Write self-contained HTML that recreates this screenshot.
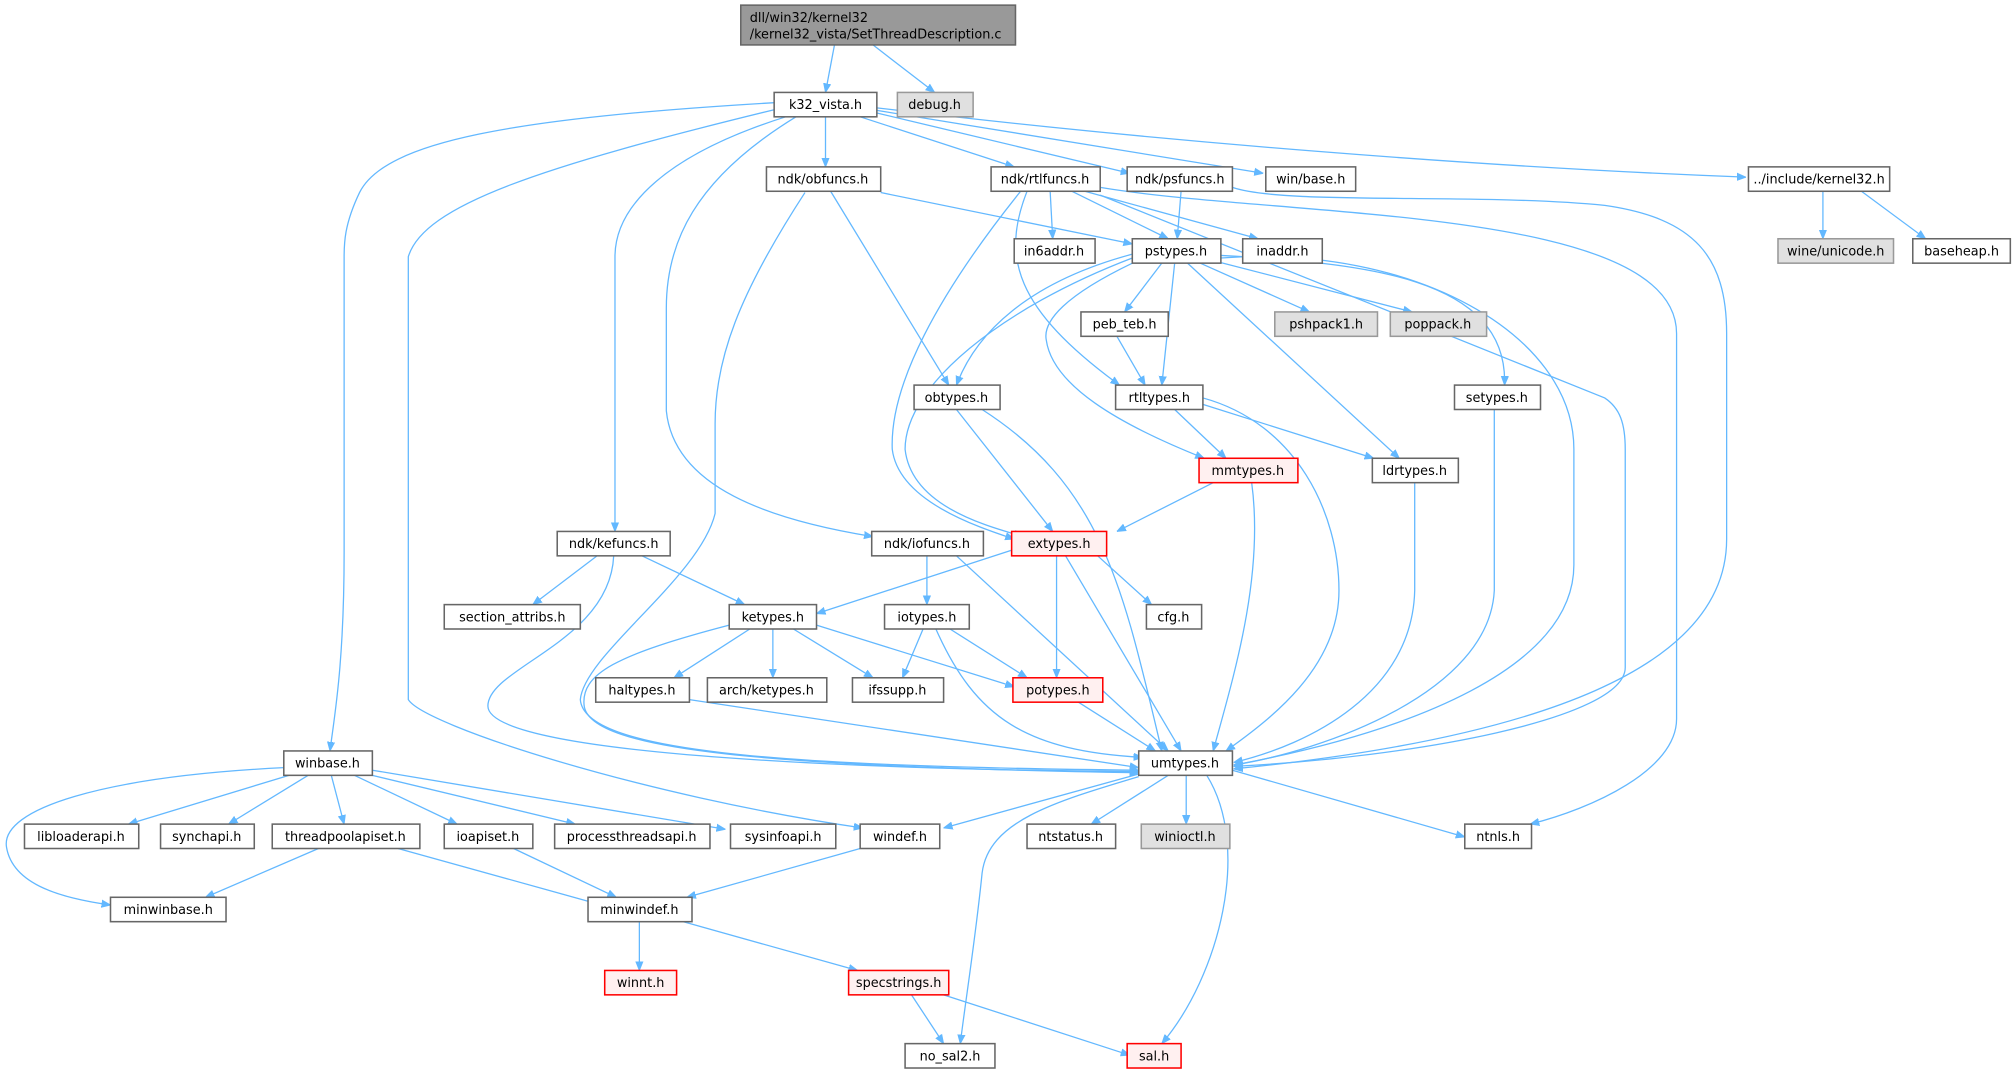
<!DOCTYPE html>
<html><head><meta charset="utf-8"><style>
html,body{margin:0;padding:0;background:#fff;}
svg{display:block;}
text{font-family:"DejaVu Sans","Liberation Sans",sans-serif;font-size:10px;fill:#000;}
.e{fill:none;stroke:#63b8ff;stroke-width:1;}
.n{fill:#fff;stroke:#666;stroke-width:1.2;}
.r{fill:#fff0f0;stroke:#ff0000;stroke-width:1.2;}
.g{fill:#e0e0e0;stroke:#999;stroke-width:1.2;}
</style></head><body>
<svg width="2013" height="1077" viewBox="0 0 1568 839" xmlns="http://www.w3.org/2000/svg">
<defs><marker id="a" viewBox="0 0 10 10" refX="10" refY="5" markerWidth="7" markerHeight="7" orient="auto" markerUnits="userSpaceOnUse"><path d="M0,1 L10,5 L0,9 z" fill="#63b8ff" stroke="#63b8ff"/></marker></defs>
<g marker-end="url(#a)">
<path class="e" d="M650,35 L643,72"/>
<path class="e" d="M680,35 L728,72"/>
<path class="e" d="M603,80 C400,92 300,110 280,150 C268,175 268,190 268,200 L268,430 C268,520 260,560 257,585"/>
<path class="e" d="M605,85 C420,130 330,160 318,200 L318,545 C330,565 500,620 672,645"/>
<path class="e" d="M612,91 C520,120 479,160 479,200 L479,414"/>
<path class="e" d="M620,91 C540,140 519,190 519,240 L519,320 C525,380 600,405 680,418"/>
<path class="e" d="M643,91 L643,130"/>
<path class="e" d="M670,91 L790,130"/>
<path class="e" d="M683,88 L880,135"/>
<path class="e" d="M683,86 L984,135"/>
<path class="e" d="M683,84 C900,110 1150,130 1360,138"/>
<path class="e" d="M686,150 L882,190"/>
<path class="e" d="M647,149 L739,300"/>
<path class="e" d="M627,150 C575,230 557,280 557,330 L557,400 C545,450 455,510 452,545 C455,585 600,597 887,600"/>
<path class="e" d="M818,149 L820,186"/>
<path class="e" d="M835,149 L910,186"/>
<path class="e" d="M845,149 L980,186"/>
<path class="e" d="M800,149 C780,200 790,240 872,300"/>
<path class="e" d="M795,149 C730,230 693,300 695,350 C700,390 760,410 790,420"/>
<path class="e" d="M857,152 L1250,310 C1262,318 1266,330 1266,350 L1266,520 C1266,560 1100,590 961,597"/>
<path class="e" d="M857,146 C1000,170 1306,160 1306,260 L1306,560 C1306,600 1240,630 1192,642"/>
<path class="e" d="M960,146 C1000,160 1150,150 1250,160 C1320,170 1345,200 1345,260 L1345,420 C1345,520 1200,575 961,599"/>
<path class="e" d="M920,149 L917,186"/>
<path class="e" d="M1420,149 L1420,186"/>
<path class="e" d="M1450,149 L1500,186"/>
<path class="e" d="M951,201 C1100,190 1226,260 1226,350 L1226,440 C1226,520 1100,570 961,596"/>
<path class="e" d="M951,199 C1060,205 1175,215 1172,300"/>
<path class="e" d="M935,205 L1020,243"/>
<path class="e" d="M945,203 L1100,243"/>
<path class="e" d="M905,205 L876,243"/>
<path class="e" d="M915,205 L905,300"/>
<path class="e" d="M925,205 L1090,357"/>
<path class="e" d="M882,198 C800,220 760,260 745,300"/>
<path class="e" d="M882,201 C780,240 705,300 705,350 C710,395 770,410 797,418"/>
<path class="e" d="M882,205 C830,230 812,250 815,265 C820,300 870,330 938,357"/>
<path class="e" d="M870,262 L892,300"/>
<path class="e" d="M915,319 L955,357"/>
<path class="e" d="M937,315 L1070,357"/>
<path class="e" d="M937,310 C1010,330 1043,400 1043,460 C1043,520 990,560 955,585"/>
<path class="e" d="M945,376 L870,414"/>
<path class="e" d="M975,376 C985,450 960,530 945,585"/>
<path class="e" d="M1102,376 L1102,460 C1100,540 1020,580 961,594"/>
<path class="e" d="M1164,319 L1164,460 C1160,540 1030,585 961,596"/>
<path class="e" d="M745,319 L820,414"/>
<path class="e" d="M765,319 C860,380 875,460 905,585"/>
<path class="e" d="M790,428 L636,478"/>
<path class="e" d="M855,433 L897,471"/>
<path class="e" d="M823,433 L823,528"/>
<path class="e" d="M830,433 L920,585"/>
<path class="e" d="M722,433 L722,471"/>
<path class="e" d="M745,433 L910,585"/>
<path class="e" d="M465,433 L415,471"/>
<path class="e" d="M500,433 L580,471"/>
<path class="e" d="M478,433 C475,500 380,520 380,550 C380,590 700,600 887,601"/>
<path class="e" d="M584,490 L525,528"/>
<path class="e" d="M602,490 L602,528"/>
<path class="e" d="M618,490 L680,528"/>
<path class="e" d="M636,487 L790,535"/>
<path class="e" d="M568,487 C480,510 452,525 455,550 C460,585 600,597 887,602"/>
<path class="e" d="M719,490 L703,528"/>
<path class="e" d="M740,490 L800,528"/>
<path class="e" d="M729,490 C760,560 800,585 890,590"/>
<path class="e" d="M537,545 L887,598"/>
<path class="e" d="M840,547 L900,585"/>
<path class="e" d="M910,604 L850,642"/>
<path class="e" d="M924,604 L924,642"/>
<path class="e" d="M960,600 L1141,652"/>
<path class="e" d="M887,603 L735,645"/>
<path class="e" d="M887,605 C820,625 770,640 765,680 C760,730 752,780 748,813"/>
<path class="e" d="M940,604 C975,660 950,760 905,813"/>
<path class="e" d="M225,604 L100,642"/>
<path class="e" d="M240,604 L178,642"/>
<path class="e" d="M258,604 L268,642"/>
<path class="e" d="M276,604 L356,642"/>
<path class="e" d="M290,604 L448,642"/>
<path class="e" d="M290,600 L565,646"/>
<path class="e" d="M221,598 C80,605 0,630 5,660 C10,690 50,700 86,705"/>
<path class="e" d="M248,661 L160,699"/>
<path class="e" d="M310,661 L465,704"/>
<path class="e" d="M400,661 L480,699"/>
<path class="e" d="M670,661 L535,699"/>
<path class="e" d="M498,718 L498,756"/>
<path class="e" d="M532,718 L668,756"/>
<path class="e" d="M710,775 L735,813"/>
<path class="e" d="M735,775 L880,822"/>
</g>
<rect x="577" y="4" width="214" height="31" fill="#999" stroke="#666" stroke-width="1.2"/>
<text x="584" y="17">dll/win32/kernel32</text><text x="584" y="30">/kernel32_vista/SetThreadDescription.c</text>
<g>
<rect class="n" x="603" y="72" width="80" height="19"/><text x="643" y="85" text-anchor="middle">k32_vista.h</text>
<rect class="g" x="699" y="72" width="59" height="19"/><text x="728" y="85" text-anchor="middle">debug.h</text>
<rect class="n" x="597" y="130" width="89" height="19"/><text x="641" y="143" text-anchor="middle">ndk/obfuncs.h</text>
<rect class="n" x="772" y="130" width="85" height="19"/><text x="814" y="143" text-anchor="middle">ndk/rtlfuncs.h</text>
<rect class="n" x="878" y="130" width="82" height="19"/><text x="919" y="143" text-anchor="middle">ndk/psfuncs.h</text>
<rect class="n" x="986" y="130" width="70" height="19"/><text x="1021" y="143" text-anchor="middle">win/base.h</text>
<rect class="n" x="1362" y="130" width="110" height="19"/><text x="1417" y="143" text-anchor="middle">../include/kernel32.h</text>
<rect class="n" x="790" y="186" width="63" height="19"/><text x="821" y="199" text-anchor="middle">in6addr.h</text>
<rect class="n" x="882" y="186" width="69" height="19"/><text x="916" y="199" text-anchor="middle">pstypes.h</text>
<rect class="n" x="968" y="186" width="62" height="19"/><text x="999" y="199" text-anchor="middle">inaddr.h</text>
<rect class="g" x="1385" y="186" width="90" height="19"/><text x="1430" y="199" text-anchor="middle">wine/unicode.h</text>
<rect class="n" x="1490" y="186" width="76" height="19"/><text x="1528" y="199" text-anchor="middle">baseheap.h</text>
<rect class="n" x="842" y="243" width="68" height="19"/><text x="876" y="256" text-anchor="middle">peb_teb.h</text>
<rect class="g" x="993" y="243" width="80" height="19"/><text x="1033" y="256" text-anchor="middle">pshpack1.h</text>
<rect class="g" x="1083" y="243" width="75" height="19"/><text x="1120" y="256" text-anchor="middle">poppack.h</text>
<rect class="n" x="712" y="300" width="67" height="19"/><text x="745" y="313" text-anchor="middle">obtypes.h</text>
<rect class="n" x="869" y="300" width="68" height="19"/><text x="903" y="313" text-anchor="middle">rtltypes.h</text>
<rect class="n" x="1133" y="300" width="67" height="19"/><text x="1166" y="313" text-anchor="middle">setypes.h</text>
<rect class="r" x="934" y="357" width="77" height="19"/><text x="972" y="370" text-anchor="middle">mmtypes.h</text>
<rect class="n" x="1069" y="357" width="67" height="19"/><text x="1102" y="370" text-anchor="middle">ldrtypes.h</text>
<rect class="n" x="434" y="414" width="88" height="19"/><text x="478" y="427" text-anchor="middle">ndk/kefuncs.h</text>
<rect class="n" x="679" y="414" width="87" height="19"/><text x="722" y="427" text-anchor="middle">ndk/iofuncs.h</text>
<rect class="r" x="788" y="414" width="74" height="19"/><text x="825" y="427" text-anchor="middle">extypes.h</text>
<rect class="n" x="346" y="471" width="106" height="19"/><text x="399" y="484" text-anchor="middle">section_attribs.h</text>
<rect class="n" x="568" y="471" width="68" height="19"/><text x="602" y="484" text-anchor="middle">ketypes.h</text>
<rect class="n" x="689" y="471" width="66" height="19"/><text x="722" y="484" text-anchor="middle">iotypes.h</text>
<rect class="n" x="893" y="471" width="43" height="19"/><text x="914" y="484" text-anchor="middle">cfg.h</text>
<rect class="n" x="464" y="528" width="73" height="19"/><text x="500" y="541" text-anchor="middle">haltypes.h</text>
<rect class="n" x="551" y="528" width="93" height="19"/><text x="597" y="541" text-anchor="middle">arch/ketypes.h</text>
<rect class="n" x="664" y="528" width="71" height="19"/><text x="699" y="541" text-anchor="middle">ifssupp.h</text>
<rect class="r" x="789" y="528" width="70" height="19"/><text x="824" y="541" text-anchor="middle">potypes.h</text>
<rect class="n" x="887" y="585" width="73" height="19"/><text x="923" y="598" text-anchor="middle">umtypes.h</text>
<rect class="n" x="221" y="585" width="69" height="19"/><text x="255" y="598" text-anchor="middle">winbase.h</text>
<rect class="n" x="19" y="642" width="89" height="19"/><text x="63" y="655" text-anchor="middle">libloaderapi.h</text>
<rect class="n" x="125" y="642" width="73" height="19"/><text x="161" y="655" text-anchor="middle">synchapi.h</text>
<rect class="n" x="212" y="642" width="115" height="19"/><text x="269" y="655" text-anchor="middle">threadpoolapiset.h</text>
<rect class="n" x="346" y="642" width="69" height="19"/><text x="380" y="655" text-anchor="middle">ioapiset.h</text>
<rect class="n" x="432" y="642" width="121" height="19"/><text x="492" y="655" text-anchor="middle">processthreadsapi.h</text>
<rect class="n" x="569" y="642" width="82" height="19"/><text x="610" y="655" text-anchor="middle">sysinfoapi.h</text>
<rect class="n" x="670" y="642" width="62" height="19"/><text x="701" y="655" text-anchor="middle">windef.h</text>
<rect class="n" x="800" y="642" width="69" height="19"/><text x="834" y="655" text-anchor="middle">ntstatus.h</text>
<rect class="g" x="889" y="642" width="69" height="19"/><text x="923" y="655" text-anchor="middle">winioctl.h</text>
<rect class="n" x="1141" y="642" width="52" height="19"/><text x="1167" y="655" text-anchor="middle">ntnls.h</text>
<rect class="n" x="86" y="699" width="90" height="19"/><text x="131" y="712" text-anchor="middle">minwinbase.h</text>
<rect class="n" x="458" y="699" width="81" height="19"/><text x="498" y="712" text-anchor="middle">minwindef.h</text>
<rect class="r" x="471" y="756" width="56" height="19"/><text x="499" y="769" text-anchor="middle">winnt.h</text>
<rect class="r" x="661" y="756" width="78" height="19"/><text x="700" y="769" text-anchor="middle">specstrings.h</text>
<rect class="n" x="705" y="813" width="70" height="19"/><text x="740" y="826" text-anchor="middle">no_sal2.h</text>
<rect class="r" x="878" y="813" width="42" height="19"/><text x="899" y="826" text-anchor="middle">sal.h</text>
</g>
</svg>
</body></html>
